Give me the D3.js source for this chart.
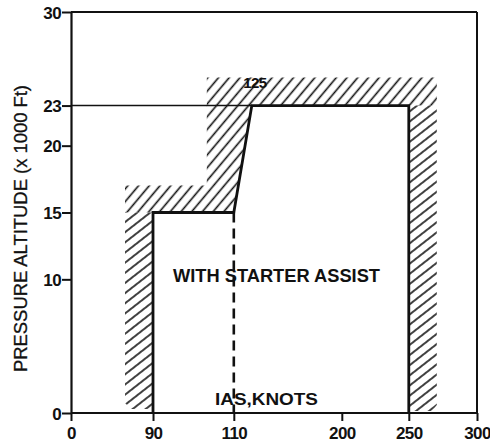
<!DOCTYPE html>
<html>
<head>
<meta charset="utf-8">
<script src="https://cdn.jsdelivr.net/npm/d3@7"></script>
<style>
  html, body { margin: 0; padding: 0; background: #fff; }
  svg { display: block; }
  text { font-family: "Liberation Sans", Arial, sans-serif; fill: #111; }
</style>
</head>
<body>
<svg id="chart" width="490" height="445"></svg>
<script>
// ---------- data ----------
const xTicks = [0, 90, 110, 200, 250, 300];          // IAS, knots (non-uniform axis)
const yTicks = [0, 10, 15, 20, 23, 30];              // pressure altitude x1000 ft
const envelopeIas = [90, 90, 110, 125, 250, 250];
const envelopeAlt = [0, 15, 15, 23, 23, 0];
const dashedIas = [110, 110];
const dashedAlt = [15, 0];
const refLineIas = [0, 125];
const refLineAlt = [23, 23];
const peakLabel = "125";
const xTitle = "IAS,KNOTS";
const yTitle = "PRESSURE ALTITUDE (x 1000 Ft)";
const regionLabel = "WITH STARTER ASSIST";

(function () {
// ---------- layout ----------
const svg = d3.select("#chart");
const pL = 71, pR = 477, pT = 12, pB = 413;
// relative placement of the (non-uniform) x tick stops across the plot width
const xStops = [0, 0.202, 0.401, 0.667, 0.832, 1];
const x = d3.scaleLinear().domain(xTicks).range(xStops.map(f => pL + f * (pR - pL)));
const y = d3.scaleLinear().domain([0, 30]).range([pB, pT]);

const defs = svg.append("defs");
function hatch(id, angle, spacing) {
  const p = defs.append("pattern").attr("id", id)
    .attr("patternUnits", "userSpaceOnUse")
    .attr("width", spacing).attr("height", spacing)
    .attr("patternTransform", `rotate(${90 - angle})`);
  p.append("line").attr("x1", spacing / 2).attr("x2", spacing / 2)
    .attr("y1", -1).attr("y2", spacing + 1)
    .attr("stroke", "#111").attr("stroke-width", 1.6);
}
hatch("hatchV", 38, 8);
hatch("hatchH", 50, 8.2);

// hatched caution band just outside the envelope
const band = 28;
const line = d3.line();
const x90 = x(envelopeIas[1]), x110 = x(envelopeIas[2]), x125 = x(envelopeIas[3]), x250 = x(envelopeIas[4]);
const y0 = y(envelopeAlt[0]), y15 = y(envelopeAlt[1]), y23 = y(envelopeAlt[3]);
// left vertical strip
svg.append("path").attr("fill", "url(#hatchV)")
  .attr("d", line([[x90 - band, y15], [x90, y15], [x90, y0 - 4], [x90 - band + 6, y0 - 4], [x90 - band, y0 - 10]]) + "Z");
// right vertical strip
svg.append("path").attr("fill", "url(#hatchV)")
  .attr("d", line([[x250, y23], [x250 + band, y23], [x250 + band, y0 - 8], [x250 + band - 5, y0 - 2], [x250, y0 - 2]]) + "Z");
// upper L-shaped band
svg.append("path").attr("fill", "url(#hatchH)")
  .attr("d", line([
    [x90 - band, y15], [x90 - band, y15 - band + 1], [x110 - band + 1, y15 - band + 1],
    [x110 - band + 1, y23 - band], [x250 + band, y23 - band], [x250 + band, y23],
    [x125, y23], [x110, y15]
  ]) + "Z");

// ---------- frame & axes ----------
const frame = svg.append("g").attr("stroke", "#111").attr("fill", "none");
frame.append("line").attr("x1", pL).attr("x2", pR).attr("y1", pT).attr("y2", pT).attr("stroke-width", 2);
frame.append("line").attr("x1", pR).attr("x2", pR).attr("y1", pT).attr("y2", pB).attr("stroke-width", 2);

const yAxis = svg.append("g").attr("transform", `translate(${pL},0)`)
  .call(d3.axisLeft(y).tickValues(yTicks).tickSize(9).tickPadding(1).tickSizeOuter(0));
const xAxis = svg.append("g").attr("transform", `translate(0,${pB})`)
  .call(d3.axisBottom(x).tickValues(xTicks).tickSize(8).tickPadding(6).tickSizeOuter(0));
[yAxis, xAxis].forEach(g => {
  g.select(".domain").attr("stroke", "#111").attr("stroke-width", 2.2);
  g.selectAll(".tick line").attr("stroke", "#111").attr("stroke-width", 2);
  g.selectAll(".tick text").attr("font-size", 17).attr("fill", "#111")
    .attr("font-weight", "bold")
    .attr("font-family", "'Liberation Sans', Arial, sans-serif").attr("letter-spacing", -0.6);
});
yAxis.selectAll(".tick text").attr("dy", "0.36em");
xAxis.select(".domain").attr("d", `M${pL},0H${pR}`);

// ---------- envelope lines ----------
const pts = (xs, ys) => xs.map((v, i) => [x(v), y(ys[i])]);
svg.append("path").attr("d", line(pts(refLineIas, refLineAlt)))
  .attr("fill", "none").attr("stroke", "#111").attr("stroke-width", 1.6);
svg.append("path").attr("d", line(pts(envelopeIas, envelopeAlt)))
  .attr("fill", "none").attr("stroke", "#111").attr("stroke-width", 2.8).attr("stroke-linejoin", "miter");
svg.append("path").attr("d", line(pts(dashedIas, dashedAlt)))
  .attr("fill", "none").attr("stroke", "#111").attr("stroke-width", 2.6).attr("stroke-dasharray", "10,6");

// ---------- texts ----------
svg.append("text").text(peakLabel)
  .attr("x", x(envelopeIas[3]) + 3).attr("y", y(envelopeAlt[3]) - 18)
  .attr("text-anchor", "middle").attr("font-size", 15).attr("font-weight", "bold")
  .attr("letter-spacing", -0.6);

svg.append("text").text(regionLabel)
  .attr("x", 173).attr("y", 282)
  .attr("font-size", 18).attr("font-weight", "bold")
  .attr("textLength", 207).attr("lengthAdjust", "spacingAndGlyphs");

svg.append("text").text(xTitle)
  .attr("x", 215).attr("y", 405)
  .attr("font-size", 16).attr("font-weight", "bold")
  .attr("textLength", 103).attr("lengthAdjust", "spacingAndGlyphs");

svg.append("text").text(yTitle)
  .attr("transform", `translate(27,${(85 + 372) / 2}) rotate(-90)`)
  .attr("text-anchor", "middle").attr("font-size", 18).attr("stroke", "#111").attr("stroke-width", 0.3)
  .attr("textLength", 287).attr("lengthAdjust", "spacingAndGlyphs");
})();
</script>
</body>
</html>
